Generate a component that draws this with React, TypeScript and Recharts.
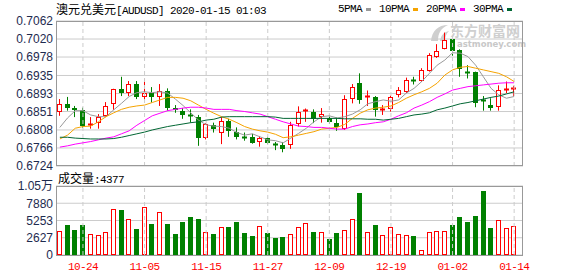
import { ComposedChart, Bar, Line, XAxis, YAxis, CartesianGrid, ReferenceLine } from "recharts";

const DATES = [
  "10-21", "10-22", "10-23", "10-24", "10-25", "10-28", "10-29", "10-30", "10-31", "11-01",
  "11-04", "11-05", "11-06", "11-07", "11-08", "11-11", "11-12", "11-13", "11-14", "11-15",
  "11-18", "11-19", "11-20", "11-21", "11-22", "11-25", "11-26", "11-27", "11-28", "11-29",
  "12-02", "12-03", "12-04", "12-05", "12-06", "12-09", "12-10", "12-11", "12-12", "12-13",
  "12-16", "12-17", "12-18", "12-19", "12-20", "12-23", "12-24", "12-26", "12-27", "12-30",
  "12-31", "01-02", "01-03", "01-06", "01-07", "01-08", "01-09", "01-10", "01-13", "01-14",
];

const OPEN = [
  0.6851, 0.6868, 0.6859, 0.6855, 0.6819, 0.6824, 0.6841, 0.6868, 0.6904, 0.6895,
  0.6915, 0.6886, 0.6894, 0.6886, 0.6899, 0.6859, 0.6852, 0.6842, 0.6839, 0.6789,
  0.6819, 0.68, 0.6829, 0.6803, 0.6791, 0.6792, 0.6781, 0.6789, 0.6775, 0.6773,
  0.6772, 0.6821, 0.6852, 0.685, 0.6838, 0.6835, 0.6824, 0.681, 0.688, 0.6917,
  0.6885, 0.6886, 0.6854, 0.6856, 0.6889, 0.6897, 0.6924, 0.6923, 0.6946, 0.6977,
  0.6997, 0.7019, 0.6994, 0.6943, 0.6942, 0.6878, 0.6866, 0.6861, 0.69, 0.6903,
];
const HIGH = [
  0.688, 0.6885, 0.6864, 0.686, 0.6838, 0.6845, 0.6873, 0.6904, 0.6932, 0.6922,
  0.6922, 0.6928, 0.6908, 0.6915, 0.6905, 0.6866, 0.6859, 0.6856, 0.6843, 0.6824,
  0.6825, 0.6838, 0.6834, 0.6814, 0.6802, 0.6799, 0.6794, 0.6792, 0.678, 0.678,
  0.6827, 0.6863, 0.6858, 0.6856, 0.6859, 0.6841, 0.6837, 0.6889, 0.6915, 0.694,
  0.69, 0.6887, 0.6866, 0.6888, 0.6908, 0.693, 0.6932, 0.6952, 0.6987, 0.7008,
  0.7035, 0.7019, 0.6996, 0.6959, 0.6944, 0.6887, 0.6882, 0.6912, 0.6921, 0.6911,
];
const LOW = [
  0.6841, 0.6853, 0.6838, 0.6813, 0.6811, 0.6811, 0.6838, 0.6855, 0.6887, 0.6887,
  0.688, 0.6878, 0.6872, 0.6864, 0.6853, 0.6848, 0.6834, 0.6825, 0.6771, 0.6786,
  0.6802, 0.6775, 0.6792, 0.6786, 0.6783, 0.6776, 0.6769, 0.6775, 0.6761, 0.6756,
  0.6764, 0.6816, 0.6827, 0.6824, 0.6825, 0.6822, 0.6806, 0.6808, 0.687, 0.6869,
  0.6864, 0.6839, 0.6843, 0.6851, 0.6884, 0.6894, 0.6914, 0.692, 0.6944, 0.6976,
  0.6996, 0.6981, 0.6932, 0.6928, 0.6861, 0.6853, 0.6853, 0.6853, 0.6894, 0.6887,
];
const CLOSE = [
  0.6868, 0.686, 0.6855, 0.6817, 0.6822, 0.6838, 0.6865, 0.6903, 0.6895, 0.6914,
  0.6886, 0.6894, 0.6886, 0.6899, 0.686, 0.6855, 0.6843, 0.684, 0.6789, 0.6822,
  0.6811, 0.6828, 0.6805, 0.6791, 0.6789, 0.6778, 0.6789, 0.6778, 0.6772, 0.6764,
  0.6819, 0.6849, 0.6854, 0.6834, 0.6845, 0.6826, 0.6816, 0.688, 0.6909, 0.6878,
  0.6887, 0.6855, 0.6857, 0.6886, 0.6901, 0.6924, 0.6921, 0.6948, 0.6982, 0.6993,
  0.7018, 0.6992, 0.6951, 0.6941, 0.6872, 0.6875, 0.686, 0.6901, 0.6904, 0.6906,
];

const VOLUME = [
  3654, 4568, 3806, 4568, 3197, 3045, 3502, 6946, 6840, 5426,
  3958, 7250, 4712, 6490, 4712, 3197, 5016, 5776, 5472, 3502,
  3197, 4210, 4256, 5016, 3390, 2888, 4362, 3344, 2584, 2736,
  3146, 4210, 4818, 3502, 3502, 2432, 3344, 3750, 5426, 9424,
  3502, 4568, 2990, 4210, 3146, 2990, 2838, 710, 3502, 3598,
  3598, 4568, 5726, 5016, 5928, 9728, 4104, 5274, 4058, 4377,
];

const MA5 = [
  0.6814, 0.6836, 0.6853, 0.6853, 0.6843, 0.6839, 0.6839, 0.6855, 0.687, 0.6886,
  0.6895, 0.6897, 0.6895, 0.6897, 0.6894, 0.688, 0.6865, 0.6848, 0.6831, 0.682,
  0.6817, 0.6816, 0.6812, 0.6802, 0.6796, 0.6799, 0.6792, 0.6785, 0.6783, 0.6778,
  0.6789, 0.68, 0.6812, 0.6827, 0.6839, 0.6841, 0.6836, 0.6839, 0.6845, 0.6855,
  0.6869, 0.6874, 0.6878, 0.6875, 0.6878, 0.6894, 0.6905, 0.6921, 0.694, 0.6959,
  0.6971, 0.6988, 0.6987, 0.6979, 0.6959, 0.6932, 0.6905, 0.689, 0.6882, 0.6886,
];
const MA10 = [
  0.6787, 0.6796, 0.6812, 0.6816, 0.6817, 0.6827, 0.6839, 0.6848, 0.6856, 0.6861,
  0.6864, 0.6866, 0.6872, 0.6878, 0.6884, 0.6884, 0.6882, 0.6876, 0.6866, 0.6856,
  0.6847, 0.6839, 0.6833, 0.6825, 0.6816, 0.681, 0.6806, 0.6803, 0.6798, 0.679,
  0.6792, 0.6796, 0.68, 0.6804, 0.681, 0.6812, 0.6814, 0.6821, 0.6835, 0.6847,
  0.6855, 0.6859, 0.6861, 0.6864, 0.6872, 0.6882, 0.689, 0.6897, 0.6905, 0.6917,
  0.6936, 0.6948, 0.6954, 0.6956, 0.6952, 0.6948, 0.6944, 0.694, 0.6932, 0.6921,
];
const MA20 = [
  0.6768, 0.6771, 0.6775, 0.6778, 0.6781, 0.6785, 0.6789, 0.6792, 0.6799, 0.6806,
  0.6819, 0.683, 0.6841, 0.6847, 0.6853, 0.6856, 0.6859, 0.6861, 0.6861, 0.6859,
  0.6856, 0.6856, 0.6856, 0.6853, 0.6851, 0.6848, 0.6845, 0.6839, 0.6833, 0.6827,
  0.6822, 0.6817, 0.6816, 0.6814, 0.6814, 0.6812, 0.681, 0.681, 0.6816, 0.682,
  0.6822, 0.6825, 0.6827, 0.6833, 0.6841, 0.6848, 0.6859, 0.6866, 0.6874, 0.6884,
  0.6892, 0.6901, 0.6905, 0.6909, 0.6911, 0.6913, 0.6915, 0.6917, 0.6918, 0.6918,
];
const MA30 = [
  0.6791, 0.6791, 0.6789, 0.6788, 0.6787, 0.6787, 0.6787, 0.6788, 0.6791, 0.6795,
  0.6799, 0.6803, 0.6808, 0.6812, 0.6816, 0.6819, 0.6822, 0.6825, 0.6827, 0.6831,
  0.6833, 0.6838, 0.6839, 0.6839, 0.6839, 0.6839, 0.6839, 0.6839, 0.6838, 0.6835,
  0.6835, 0.6835, 0.6835, 0.6835, 0.6835, 0.6835, 0.6835, 0.6834, 0.6834, 0.6834,
  0.6833, 0.6833, 0.6831, 0.6833, 0.6835, 0.6839, 0.6843, 0.6845, 0.6848, 0.6855,
  0.6859, 0.6864, 0.6869, 0.6872, 0.6876, 0.688, 0.6884, 0.6887, 0.6892, 0.6897,
];

const PRICE_TICKS = [0.6724, 0.6766, 0.6808, 0.6851, 0.6893, 0.6935, 0.6978, 0.702, 0.7062];
const VOL_TICKS = [0, 2627, 5253, 7880, 10506];
const LABEL_DATES = ["10-24", "11-05", "11-15", "11-27", "12-09", "12-19", "01-02", "01-14"];

const RED = "#ff0000";
const GREEN = "#008000";
const GRID = "#cccccc";
const AXIS_TEXT = "#1e2b4f";
const BITMAP = '"Liberation Mono", monospace';
const CJK = '"Noto Sans CJK SC", sans-serif';

const MA_LINES = [
  { key: "ma5", name: "5PMA", color: "#999999" },
  { key: "ma10", name: "10PMA", color: "#f5a300" },
  { key: "ma20", name: "20PMA", color: "#ff00ff" },
  { key: "ma30", name: "30PMA", color: "#006633" },
];

const rows = DATES.map((date, i) => ({
  date,
  open: OPEN[i],
  high: HIGH[i],
  low: LOW[i],
  close: CLOSE[i],
  vol: VOLUME[i],
  ma5: MA5[i],
  ma10: MA10[i],
  ma20: MA20[i],
  ma30: MA30[i],
}));

function Candle(props: any) {
  const { x, y, width, height, payload } = props;
  if (!payload) return null;
  const { open, close, high, low } = payload;
  const up = close >= open;
  const color = up ? RED : GREEN;
  const top = Math.min(y, y + height);
  const h = Math.abs(height);
  const k = high > low ? h / (high - low) : 0;
  const left = Math.round(x);
  const cx = left + Math.floor(width / 2) + 0.5;
  const bTop = Math.round(top + (high - Math.max(open, close)) * k);
  const bBot = Math.round(top + (high - Math.min(open, close)) * k);
  const w = Math.round(width);
  return (
    <g>
      <line x1={cx} x2={cx} y1={top} y2={bTop} stroke={color} />
      <line x1={cx} x2={cx} y1={bBot} y2={top + h} stroke={color} />
      {bBot - bTop < 2 ? (
        <line x1={left} x2={left + w} y1={bTop + 0.5} y2={bTop + 0.5} stroke={color} strokeWidth={2} />
      ) : up ? (
        <rect x={left + 0.5} y={bTop + 0.5} width={w - 1} height={bBot - bTop - 1} fill="#ffffff" stroke={color} />
      ) : (
        <rect x={left} y={bTop} width={w} height={bBot - bTop} fill={color} />
      )}
    </g>
  );
}

function VolBar(props: any) {
  const { x, y, width, height, payload } = props;
  if (!payload) return null;
  const up = payload.close >= payload.open;
  const left = Math.round(x);
  const top = Math.round(Math.min(y, y + height));
  const bottom = Math.round(Math.max(y, y + height));
  const w = Math.round(width);
  if (up) {
    return <rect x={left + 0.5} y={top + 0.5} width={w - 1} height={Math.max(0, bottom - top - 1)} fill="#ffffff" stroke={RED} />;
  }
  return <rect x={left} y={top} width={w} height={bottom - top} fill={GREEN} />;
}

function fmtVol(v: number) {
  if (v >= 10000) return `${(v / 10000).toFixed(2)}万`;
  return `${v}`;
}

const tickStyle = { fill: AXIS_TEXT, fontSize: 12, fontFamily: '"Liberation Sans", Arial, "Noto Sans CJK SC"' };

export default function App() {
  return (
    <div style={{ position: "absolute", left: 0, top: 0, width: 578, height: 276, background: "#ffffff", overflow: "hidden" }}>
      {/* watermark */}
      <div style={{ position: "absolute", left: 428, top: 21, width: 95, height: 30, color: "#cfcfcf" }}>
        <svg width={22} height={20} style={{ position: "absolute", left: 0, top: 2 }}>
          <path d="M3 18 C4 8 10 2 20 2 C13 5 10 10 10 18 Z" fill="#cfcfcf" />
          <path d="M12 18 C13 12 16 9 21 8 C18 11 17 14 17 18 Z" fill="#cfcfcf" />
        </svg>
        <div style={{ position: "absolute", left: 22, top: 2, fontFamily: CJK, fontWeight: 700, fontSize: 14, lineHeight: "14px", whiteSpace: "nowrap" }}>
          东方财富网
        </div>
        <div style={{ position: "absolute", left: 29, top: 19, fontFamily: '"DejaVu Sans"', fontWeight: 700, fontSize: 8.5, lineHeight: "9px", whiteSpace: "nowrap", color: "#c8c8c8" }}>
          astmoney.com
        </div>
      </div>

      <div style={{ position: "absolute", left: 0, top: 0 }}>
        <ComposedChart width={578} height={180} data={rows} margin={{ top: 21, right: 55, bottom: 14, left: 0 }} style={{ overflow: "visible" }}>
          <CartesianGrid vertical={false} stroke={GRID} />
          <XAxis dataKey="date" hide padding={{ left: 0, right: 5 }} />
          <YAxis
            domain={[0.6724, 0.7062]}
            ticks={PRICE_TICKS}
            interval={0}
            width={56}
            axisLine={false}
            tickLine={false}
            tickSize={0}
            tickMargin={3}
            allowDataOverflow
            tick={tickStyle}
            tickFormatter={(v: number) => v.toFixed(4)}
          />
          {LABEL_DATES.map((d) => (
            <ReferenceLine key={d} x={d} stroke={GRID} strokeDasharray="4 3" />
          ))}
          <Bar dataKey={(d: any) => [d.low, d.high]} barSize={5} shape={Candle} isAnimationActive={false} />
          {MA_LINES.map((m) => (
            <Line key={m.key} dataKey={m.key} stroke={m.color} strokeWidth={1} dot={false} activeDot={false} isAnimationActive={false} />
          ))}
        </ComposedChart>
      </div>

      <div style={{ position: "absolute", left: 0, top: 170 }}>
        <ComposedChart width={578} height={106} data={rows} margin={{ top: 16, right: 55, bottom: 0, left: 0 }}>
          <CartesianGrid vertical={false} stroke={GRID} />
          <XAxis
            dataKey="date"
            ticks={LABEL_DATES}
            interval={0}
            padding={{ left: 0, right: 5 }}
            height={21}
            axisLine={false}
            tickLine={false}
            tickSize={0}
            tickMargin={7}
            tick={{ fill: RED, fontSize: 11, fontFamily: BITMAP, letterSpacing: -0.6 }}
          />
          <YAxis
            domain={[0, 10506]}
            ticks={VOL_TICKS}
            interval={0}
            width={56}
            axisLine={false}
            tickLine={false}
            tickSize={0}
            tickMargin={3}
            allowDataOverflow
            tick={tickStyle}
            tickFormatter={fmtVol}
          />
          {LABEL_DATES.map((d) => (
            <ReferenceLine key={d} x={d} stroke={GRID} strokeDasharray="4 3" />
          ))}
          <Bar dataKey="vol" barSize={5} shape={VolBar} isAnimationActive={false} />
        </ComposedChart>
      </div>

      {/* plot frames */}
      <div style={{ position: "absolute", left: 56, top: 21, width: 467, height: 145, border: "1px solid #999999", boxSizing: "border-box", pointerEvents: "none" }} />
      <div style={{ position: "absolute", left: 56, top: 186, width: 467, height: 70, border: "1px solid #999999", boxSizing: "border-box", pointerEvents: "none" }} />

      {/* title */}
      <div style={{ position: "absolute", left: 56, top: 2, whiteSpace: "nowrap", lineHeight: "14px", color: "#000" }}>
        <span style={{ fontFamily: CJK, fontSize: 12 }}>澳元兑美元</span>
        <span style={{ fontFamily: BITMAP, fontSize: 11, letterSpacing: -0.6 }}>[AUDUSD] 2020-01-15 01:03</span>
      </div>

      {/* legend */}
      <div style={{ position: "absolute", left: 338, top: 2, whiteSpace: "nowrap", lineHeight: "14px", fontFamily: BITMAP, fontSize: 11, letterSpacing: -0.6, color: "#000", display: "flex" }}>
        {MA_LINES.map((m) => (
          <span key={m.key} style={{ display: "inline-flex", alignItems: "center", marginRight: 8 }}>
            {m.name}
            <span style={{ display: "inline-block", width: 5, height: 3, background: m.color, marginLeft: 4 }} />
          </span>
        ))}
      </div>

      {/* volume label */}
      <div style={{ position: "absolute", left: 58, top: 171, whiteSpace: "nowrap", lineHeight: "14px", color: "#000" }}>
        <span style={{ fontFamily: CJK, fontSize: 12 }}>成交量</span>
        <span style={{ fontFamily: BITMAP, fontSize: 11, letterSpacing: -0.6 }}>:{VOLUME[VOLUME.length - 1]}</span>
      </div>
    </div>
  );
}
